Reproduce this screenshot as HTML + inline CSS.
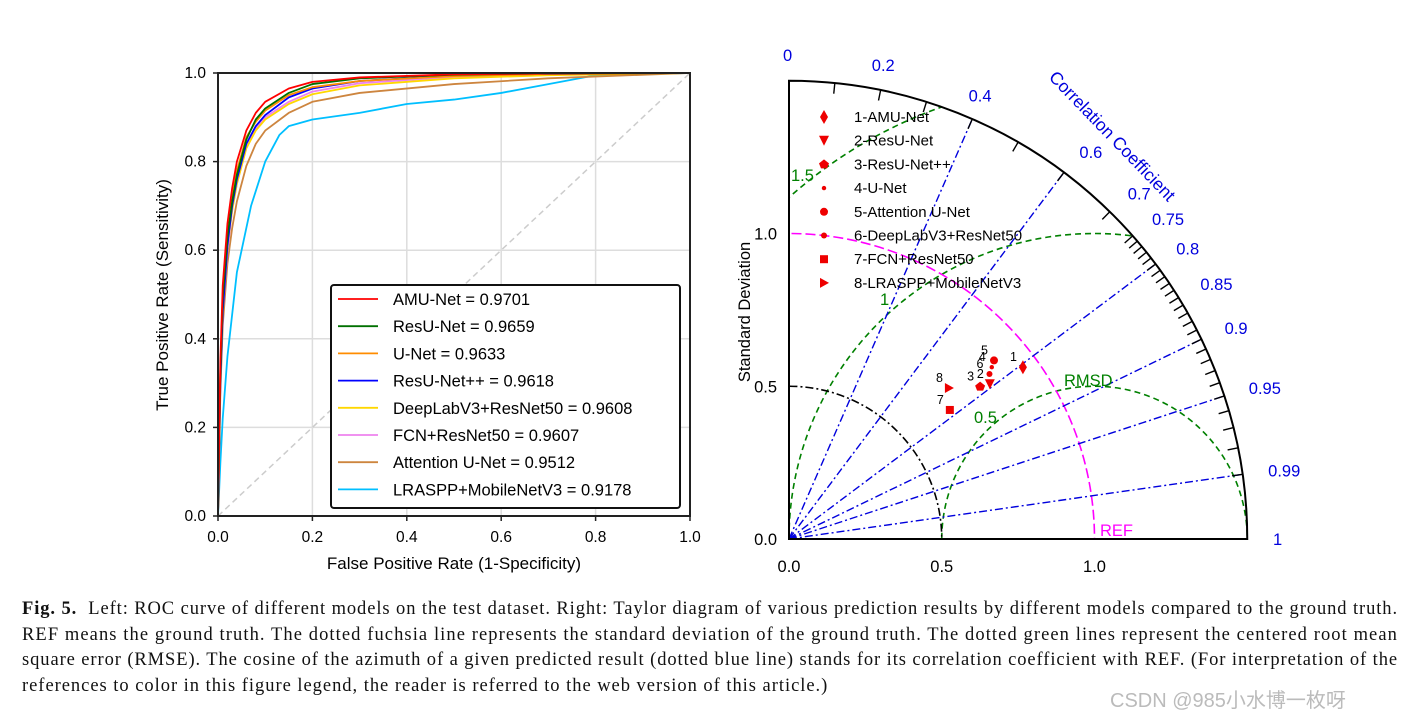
<!DOCTYPE html>
<html><head><meta charset="utf-8"><style>
body{margin:0;background:#fff;width:1426px;height:725px;overflow:hidden;font-family:"Liberation Sans",sans-serif;position:relative}
#cap{position:absolute;left:22px;top:597px;width:1398px;height:104px;font-family:"Liberation Serif",serif;font-size:18.5px;line-height:25.5px;color:#111;overflow:hidden}
#cap div{white-space:nowrap;height:25.5px}
</style></head><body>
<svg id="roc" width="720" height="590" style="position:absolute;left:0;top:0" font-family="Liberation Sans, sans-serif"></svg>
<svg id="tay" width="706" height="590" style="position:absolute;left:720px;top:0" font-family="Liberation Sans, sans-serif"></svg>
<div id="cap">
<div class="cl"><b>Fig. 5.</b>&nbsp; Left: ROC curve of different models on the test dataset. Right: Taylor diagram of various prediction results by different models compared to the ground truth.</div>
<div class="cl">REF means the ground truth. The dotted fuchsia line represents the standard deviation of the ground truth. The dotted green lines represent the centered root mean</div>
<div class="cl">square error (RMSE). The cosine of the azimuth of a given predicted result (dotted blue line) stands for its correlation coefficient with REF. (For interpretation of the</div>
<div class="cl last">references to color in this figure legend, the reader is referred to the web version of this article.)</div>
</div>
<div style="position:absolute;left:1110px;top:684px;height:30px;font-size:20px;color:#bbb;font-family:'Liberation Sans','Noto Sans CJK SC',sans-serif">CSDN @985小水博一枚呀</div>
<script>
let lsSum=0,lsN=0;
document.querySelectorAll('#cap .cl').forEach(d=>{
 const s=document.createElement('span');s.innerHTML=d.innerHTML;d.innerHTML='';d.appendChild(s);
 if(d.classList.contains('last')){d.style.letterSpacing=(lsSum/lsN)+'px';return;}
 const w=s.getBoundingClientRect().width;const n=s.textContent.length;
 const ls=(1376-w)/n;lsSum+=ls;lsN++;
 d.style.letterSpacing=ls+'px';
});
const NS="http://www.w3.org/2000/svg";
function mk(p,t,a){const e=document.createElementNS(NS,t);for(const k in a)e.setAttribute(k,a[k]);p.appendChild(e);return e;}
const rocNames=["AMU-Net = 0.9701","ResU-Net = 0.9659","U-Net = 0.9633","ResU-Net++ = 0.9618","DeepLabV3+ResNet50 = 0.9608","FCN+ResNet50 = 0.9607","Attention U-Net = 0.9512","LRASPP+MobileNetV3 = 0.9178"];
const rocColors=["#ff0000","#007000","#ff8c00","#0000ff","#ffd700","#ee82ee","#cd853f","#00bfff"];
const rocFpr=[0,0.005,0.01,0.02,0.03,0.04,0.06,0.08,0.1,0.15,0.2,0.3,0.5,0.7,1];
const rocTpr=[
[0,0.35,0.52,0.66,0.74,0.8,0.87,0.91,0.935,0.965,0.98,0.99,0.997,0.999,1],
[0,0.32,0.49,0.63,0.71,0.77,0.85,0.895,0.92,0.955,0.975,0.988,0.996,0.999,1],
[0,0.33,0.5,0.64,0.72,0.78,0.855,0.89,0.915,0.95,0.968,0.982,0.993,0.998,1],
[0,0.3,0.46,0.61,0.7,0.76,0.84,0.88,0.905,0.945,0.965,0.982,0.994,0.998,1],
[0,0.31,0.47,0.61,0.69,0.75,0.83,0.87,0.895,0.93,0.952,0.972,0.988,0.995,1],
[0,0.3,0.46,0.6,0.69,0.75,0.83,0.875,0.9,0.935,0.958,0.977,0.991,0.997,1],
[0,0.28,0.43,0.57,0.65,0.71,0.79,0.84,0.87,0.91,0.935,0.955,0.975,0.988,1]];
const lrFpr=[0,0.005,0.01,0.02,0.04,0.07,0.1,0.13,0.15,0.2,0.3,0.4,0.5,0.6,0.7,0.8,1];
const lrTpr=[0,0.12,0.22,0.36,0.55,0.7,0.8,0.86,0.88,0.895,0.91,0.93,0.94,0.955,0.975,0.995,1];
const rocTicks=[0,0.2,0.4,0.6,0.8,1.0];
const R=document.getElementById('roc');
const X0=218,X1=690,Y0=516,Y1=73;
const xs=v=>X0+v*(X1-X0), ys=v=>Y0-v*(Y0-Y1);
rocTicks.forEach(t=>{
 if(t>0&&t<1){let g=mk(R,'line',{x1:xs(t),x2:xs(t),y1:Y0,y2:Y1,stroke:'#ddd','stroke-width':1.5});
 g=mk(R,'line',{x1:X0,x2:X1,y1:ys(t),y2:ys(t),stroke:'#ddd','stroke-width':1.5});}
 let tx=mk(R,'text',{x:xs(t),y:Y0+26,'text-anchor':'middle','font-size':15.5});tx.textContent=t.toFixed(1);
 tx=mk(R,'text',{x:X0-12,y:ys(t)+5,'text-anchor':'end','font-size':15.5});tx.textContent=t.toFixed(1);
 mk(R,'line',{x1:xs(t),x2:xs(t),y1:Y0,y2:Y0+5,stroke:'#222','stroke-width':1.5});
 mk(R,'line',{x1:X0,x2:X0-5,y1:ys(t),y2:ys(t),stroke:'#222','stroke-width':1.5});
});
let dg=mk(R,'line',{x1:xs(0),y1:ys(0),x2:xs(1),y2:ys(1),stroke:'#ccc','stroke-width':1.5,'stroke-dasharray':'6,4'});

function curve(fx,ty,c,i){let p=mk(R,'polyline',{points:fx.map((f,j)=>xs(f)+','+ys(ty[j])).join(' '),fill:'none',stroke:c,'stroke-width':1.8,'stroke-linejoin':'round'});
}
curve(lrFpr,lrTpr,rocColors[7],7);
for(let i=6;i>=0;i--)curve(rocFpr,rocTpr[i],rocColors[i],i);
mk(R,'rect',{x:X0,y:Y1,width:X1-X0,height:Y0-Y1,fill:'none',stroke:'#222','stroke-width':2});
let t=mk(R,'text',{x:454,y:569,'text-anchor':'middle','font-size':17});t.textContent='False Positive Rate (1-Specificity)';
t=mk(R,'text',{x:168,y:295,'text-anchor':'middle','font-size':17,transform:'rotate(-90 168 295)'});t.textContent='True Positive Rate (Sensitivity)';
const lg=mk(R,'g',{});
mk(lg,'rect',{x:331,y:285,width:349,height:223,fill:'#fff',stroke:'#111','stroke-width':2,rx:3});
rocNames.forEach((n,i)=>{const y=299+i*27.2;mk(lg,'line',{x1:338,x2:378,y1:y,y2:y,stroke:rocColors[i],'stroke-width':1.8});
 let e=mk(lg,'text',{x:393,y:y+6,'font-size':16.5});e.textContent=n;});
const T=document.getElementById('tay');
const OX=69,OY=539,S=305.5,MAX=1.5;
const px=(r,c)=>OX+r*S*c, py=(r,c)=>OY-r*S*Math.sqrt(Math.max(0,1-c*c));
const tNames=["1-AMU-Net","2-ResU-Net","3-ResU-Net++","4-U-Net","5-Attention U-Net","6-DeepLabV3+ResNet50","7-FCN+ResNet50","8-LRASPP+MobileNetV3"];
const tStd=[0.95,0.83,0.80,0.87,0.89,0.85,0.675,0.72];
const tCorr=[0.806,0.792,0.782,0.763,0.754,0.772,0.78,0.727];
const corrLines=[0.4,0.6,0.8,0.9,0.95,0.99];
const corrLabels=[0,0.2,0.4,0.6,0.7,0.75,0.8,0.85,0.9,0.95,0.99,1];
const stdTicks=[0,0.5,1.0];
const defs=mk(T,'defs',{});const cp=mk(defs,'clipPath',{id:'qc'});
mk(cp,'path',{d:`M${OX},${OY} L${OX+MAX*S},${OY} A${MAX*S},${MAX*S} 0 0 0 ${OX},${OY-MAX*S} Z`});
const cg=mk(T,'g',{'clip-path':'url(#qc)'});
function arc(cx,r,st,da,nm){let e=mk(cg,'circle',{cx:cx,cy:OY,r:r*S,fill:'none',stroke:st,'stroke-width':1.6,'stroke-dasharray':da});}
[0.5,1.0,1.5].forEach(r=>arc(OX+1.0*S,r,'#008000','6,4','rmsd-arc'));
arc(OX,0.5,'#000','8,3,2,3','std-arc');
arc(OX,1.0,'#ff00ff','10,4','ref-arc');
corrLines.forEach(c=>{let e=mk(cg,'line',{x1:OX,y1:OY,x2:px(MAX,c),y2:py(MAX,c),stroke:'#0000dd','stroke-width':1.4,'stroke-dasharray':'8,3,2,3'});});
mk(T,'path',{d:`M${OX+MAX*S},${OY} A${MAX*S},${MAX*S} 0 0 0 ${OX},${OY-MAX*S} L${OX},${OY} Z`,fill:'none',stroke:'#000','stroke-width':2});
const tk=[];for(let c=0.1;c<0.75;c+=0.1)tk.push(c);for(let c=0.75;c<0.991;c+=0.01)tk.push(c);
tk.forEach(c=>{mk(T,'line',{x1:px(MAX,c),y1:py(MAX,c),x2:px(MAX-0.035,c),y2:py(MAX-0.035,c),stroke:'#000','stroke-width':1.4});});
corrLabels.forEach(c=>{const r=484/S;let e=mk(T,'text',{x:px(r,c)-(c<0.1?6:(c<0.5?14:0)),y:py(r,c)+6,'font-size':16.5,fill:'#0000dd'});e.textContent=String(c);});
stdTicks.forEach(s=>{let e=mk(T,'text',{x:px(s,1),y:OY+33,'text-anchor':'middle','font-size':16.5});e.textContent=s.toFixed(1);
 e=mk(T,'text',{x:OX-12,y:py(s,0)+6,'text-anchor':'end','font-size':16.5});e.textContent=s.toFixed(1);});
t=mk(T,'text',{x:30,y:312,'text-anchor':'middle','font-size':16.5,transform:'rotate(-90 30 312)'});t.textContent='Standard Deviation';
t=mk(T,'text',{x:328,y:78,'font-size':17.5,fill:'#0000dd',transform:'rotate(46 328 78)'});t.textContent='Correlation Coefficient';
t=mk(T,'text',{x:344,y:386,'font-size':16.5,fill:'#008000'});t.textContent='RMSD';
t=mk(T,'text',{x:254,y:423,'font-size':16.5,fill:'#008000'});t.textContent='0.5';
t=mk(T,'text',{x:160,y:305,'font-size':16.5,fill:'#008000'});t.textContent='1';
t=mk(T,'text',{x:71,y:181,'font-size':16.5,fill:'#008000'});t.textContent='1.5';
t=mk(T,'text',{x:380,y:536,'font-size':16.5,fill:'#ff00ff'});t.textContent='REF';
function marker(g,i,x,y){const sh=[`M${x},${y-7}L${x+4},${y}L${x},${y+7}L${x-4},${y}Z`,`M${x-5},${y-5}L${x+5},${y-5}L${x},${y+5}Z`,`M${x},${y-5}L${x+5},${y-1}L${x+3},${y+4}L${x-3},${y+4}L${x-5},${y-1}Z`,null,null,null,`M${x-4},${y-4}h8v8h-8Z`,`M${x-4},${y-5}L${x+5},${y}L${x-4},${y+5}Z`];
 let e;if(sh[i])e=mk(g,'path',{d:sh[i],fill:'#ee0000'});else e=mk(g,'circle',{cx:x,cy:y,r:[0,0,0,2.2,4,3][i],fill:'#ee0000'});return e;}
tStd.forEach((s,i)=>{const x=px(s,tCorr[i]),y=py(s,tCorr[i]);const e=marker(T,i,x,y);
 const l=mk(T,'text',{x:x-6,y:y-6,'text-anchor':'end','font-size':12.5});l.textContent=String(i+1);});
tNames.forEach((n,i)=>{const y=117+i*23.7;const m=marker(T,i,104,y);
 const e=mk(T,'text',{x:134,y:y+5,'font-size':15});e.textContent=n;});
</script>
</body></html>
